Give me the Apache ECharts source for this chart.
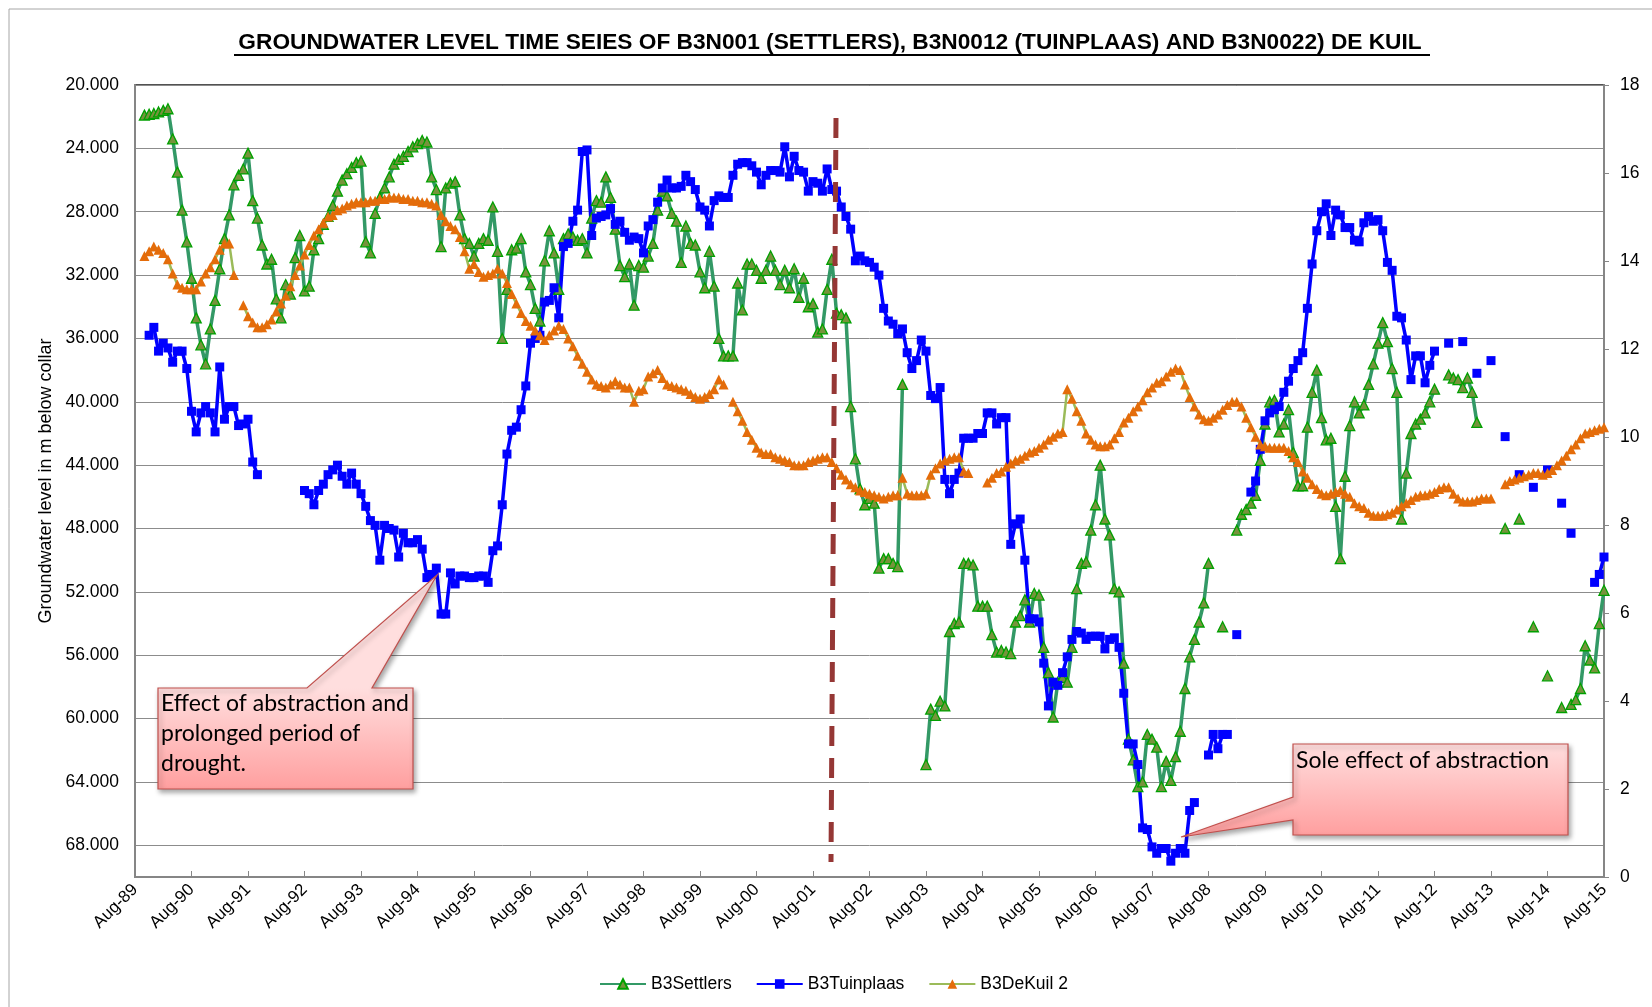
<!DOCTYPE html>
<html>
<head>
<meta charset="utf-8">
<title>Groundwater level time series</title>
<script src="https://cdn.jsdelivr.net/npm/echarts@6/dist/echarts.min.js"></script>
<style>
  html, body { margin: 0; padding: 0; background: #fff; }
  #chart { width: 1652px; height: 1007px; }
</style>
</head>
<body>
<div id="chart"></div>
<script>
'use strict';

// Monthly readings Aug-89 .. Aug-15, metres below collar (one row = Aug..Jul)
const MONTH_NAMES = ['Jan', 'Feb', 'Mar', 'Apr', 'May', 'Jun', 'Jul', 'Aug', 'Sep', 'Oct', 'Nov', 'Dec'];
const START_YEAR = 1989;
const START_MONTH = 7; // Aug
const MONTH_COUNT = 313;

const settlers = [
  null, null, 21.9, 21.85, 21.8, 21.7, 21.6, 21.5, 23.4, 25.5, 27.9, 29.9,
  32.2, 34.7, 36.4, 37.6, 35.4, 33.6, 31.6, 29.7, 28.2, 26.3, 25.7, 25.3,
  24.3, 27.3, 28.4, 30.1, 31.3, 31.0, 33.5, 34.7, 32.6, 33.2, 30.9, 29.5,
  33.0, 32.7, 30.4, 29.7, 28.8, 28.3, 27.6, 26.7, 26.0, 25.6, 25.2, 24.9,
  24.8, 29.9, 30.6, 28.1, 27.1, 26.5, 25.8, 25.0, 24.7, 24.5, 24.2, 23.9,
  23.7, 23.5, 23.6, 25.8, 26.6, 30.2, 26.5, 26.2, 26.1, 28.2, 29.7, 30.0,
  30.8, 30.0, 29.7, 29.8, 27.7, 30.5, 36.0, 32.9, 30.4, 30.3, 29.7, 31.8,
  32.6, 34.1, 34.9, 31.1, 29.2, 30.6, 32.9, 29.7, 29.4, 29.6, 29.8, 29.7,
  30.6, 28.4, 27.3, 27.4, 25.8, 27.1, 29.1, 31.4, 32.1, 31.3, 33.9, 31.4,
  31.5, 30.8, 30.0, 27.9, 26.7, 27.0, 28.1, 28.6, 31.2, 28.9, 30.0, 30.1,
  31.8, 32.8, 30.5, 32.7, 36.0, 37.1, 37.1, 37.1, 32.5, 34.2, 31.3, 31.3,
  31.7, 32.2, 31.7, 30.8, 31.7, 32.6, 31.7, 32.8, 31.6, 33.4, 32.2, 34.0,
  33.8, 35.6, 35.4, 32.9, 31.0, 34.4, 34.5, 34.7, 40.3, 43.6, 45.5, 46.5,
  46.1, 46.4, 50.5, 49.9, 49.9, 50.2, 50.4, 38.9, null, null, null, null,
  62.9, 59.4, 59.8, 58.9, 59.2, 54.5, 54.0, 53.9, 50.2, 50.2, 50.3, 52.9,
  52.9, 52.9, 54.7, 55.8, 55.7, 55.8, 55.9, 53.9, 53.5, 52.5, 53.9, 52.1,
  52.2, 55.5, 57.1, 59.9, 57.7, 57.4, 57.7, 55.5, 51.8, 50.2, 50.1, 48.1,
  46.5, 44.0, 47.4, 48.4, 51.8, 52.0, 56.5, 61.3, 62.6, 64.3, 64.0, 61.0,
  61.3, 61.8, 64.3, 62.7, 63.9, 62.4, 60.8, 58.1, 56.1, 55.0, 53.9, 52.7,
  50.2, null, null, 54.2, null, null, 48.1, 47.1, 46.8, 46.4, 45.9, 43.7,
  41.4, 40.0, 39.9, 41.9, 41.4, 40.5, 43.2, 45.3, 45.3, 41.6, 39.4, 38.0,
  41.0, 42.4, 42.3, 46.6, 49.9, 44.7, 41.5, 40.0, 40.7, 40.2, 38.9, 37.6,
  36.3, 35.0, 36.2, 37.9, 39.4, 47.4, 44.5, 42.0, 41.4, 41.1, 40.7, 40.0,
  39.2, null, null, 38.3, 38.5, 38.6, 39.1, 38.5, 39.4, 41.3, null, null,
  null, null, null, 48.0, null, null, 47.4, null, null, 54.2, null, null,
  57.3, null, null, 59.3, null, 59.1, 58.8, 58.1, 55.4, 56.3, 56.8, 54.0,
  51.9
];

const tuinplaas = [
  null, null, null, 35.8, 35.3, 36.8, 36.3, 36.6, 37.5, 36.8, 36.8, 37.9,
  40.6, 41.9, 40.7, 40.3, 40.7, 41.9, 37.8, 41.1, 40.3, 40.3, 41.5, 41.4,
  41.1, 43.8, 44.6, null, null, null, null, null, null, null, null, null,
  45.6, 45.8, 46.5, 45.6, 45.2, 44.6, 44.3, 44.0, 44.7, 45.2, 44.5, 45.2,
  45.8, 46.6, 47.5, 47.8, 50.0, 47.8, 48.0, 48.1, 49.8, 48.3, 48.9, 48.9,
  48.7, 49.3, 51.1, 50.9, 50.5, 53.4, 53.4, 50.8, 51.5, 51.0, 51.0, 51.1,
  51.1, 51.0, 51.0, 51.4, 49.4, 49.1, 46.5, 43.3, 41.8, 41.6, 40.5, 39.0,
  36.3, 36.0, 35.8, 33.7, 33.6, 32.8, 34.7, 30.2, 30.0, 28.6, 27.9, 24.2,
  24.1, 29.5, 28.4, 28.3, 28.2, 27.8, 28.8, 28.6, 29.3, 29.8, 29.6, 29.7,
  30.6, 28.9, 28.5, 27.4, 26.5, 26.0, 26.5, 26.5, 26.4, 25.7, 26.1, 26.6,
  27.7, 27.9, 28.9, 27.3, 27.0, 27.1, 27.1, 25.7, 25.0, 24.9, 24.9, 25.1,
  25.5, 26.3, 25.7, 25.4, 25.4, 25.5, 23.9, 25.8, 24.5, 25.4, 25.5, 26.7,
  26.1, 26.2, 26.7, 25.3, 26.6, 26.7, 27.7, 28.3, 29.1, 31.1, 30.8, 31.1,
  31.2, 31.5, 32.0, 34.1, 34.9, 35.1, 35.7, 35.4, 36.9, 37.9, 37.4, 36.1,
  36.8, 39.6, 39.8, 39.1, 44.9, 45.8, 44.9, 44.5, 42.3, 42.3, 42.3, 42.0,
  42.0, 40.7, 40.7, 41.4, 41.0, 41.0, 49.0, 47.7, 47.4, 50.0, 53.7, 53.7,
  53.9, 56.5, 59.2, 57.7, 57.9, 57.1, 56.1, 55.0, 54.5, 54.6, 55.0, 54.8,
  54.8, 54.8, 55.6, 55.0, 54.9, 55.5, 58.4, 61.6, 61.6, 62.9, 66.9, 67.0,
  68.1, 68.5, 68.2, 68.2, 69.0, 68.5, 68.2, 68.5, 65.8, 65.3, null, null,
  62.3, 61.0, 61.9, 61.0, 61.0, null, 54.7, null, null, 45.7, 45.0, 43.0,
  41.2, 40.7, 40.5, 40.3, 39.4, 38.7, 37.9, 37.4, 36.9, 34.1, 31.3, 29.2,
  28.0, 27.5, 29.5, 27.9, 28.2, 29.0, 29.0, 29.8, 29.9, 28.7, 28.3, 28.6,
  28.5, 29.2, 31.2, 31.7, 34.6, 34.7, 36.1, 38.6, 37.1, 37.1, 38.8, 37.7,
  36.8, null, null, 36.3, null, null, 36.2, null, null, 38.2, null, null,
  37.4, null, null, 42.2, null, null, 44.6, null, null, 45.4, null, null,
  44.3, null, null, 46.4, null, 48.3, null, null, null, null, 51.4, 50.9,
  49.8
];

const deKuil = [
  null, null, 30.8, 30.5, 30.2, 30.4, 30.6, 31.0, 31.9, 32.6, 32.8, 32.9,
  32.9, 32.9, 32.4, 31.9, 31.5, 31.0, 30.4, 30.0, 30.0, 32.0, null, 33.9,
  34.6, 35.0, 35.3, 35.3, 35.1, 34.8, 34.3, 33.8, 33.3, 32.7, 32.0, 31.4,
  30.7, 30.1, 29.5, 29.1, 28.7, 28.3, 28.2, 27.9, 27.8, 27.6, 27.5, 27.4,
  27.4, 27.4, 27.3, 27.3, 27.2, 27.2, 27.1, 27.1, 27.1, 27.2, 27.2, 27.3,
  27.3, 27.4, 27.4, 27.5, 27.6, 28.2, 28.6, 28.9, 29.1, 29.6, 30.5, 31.6,
  31.3, 31.8, 32.1, 32.0, 31.9, 31.6, 31.9, 32.5, 33.2, 33.8, 34.4, 34.9,
  35.2, 35.5, 35.8, 36.1, 35.8, 35.5, 35.2, 35.4, 36.0, 36.5, 37.1, 37.6,
  38.1, 38.6, 38.9, 39.0, 39.1, 38.9, 38.7, 38.9, 39.1, 39.1, 40.0, 39.3,
  39.2, 38.4, 38.2, 38.0, 38.5, 38.9, 39.0, 39.1, 39.2, 39.3, 39.5, 39.7,
  39.8, 39.7, 39.5, 39.2, 38.6, 38.9, null, 40.0, 40.6, 41.2, 41.9, 42.4,
  42.9, 43.2, 43.3, 43.3, 43.5, 43.6, 43.7, 43.8, 44.0, 44.0, 44.0, 43.8,
  43.7, 43.6, 43.5, 43.5, 43.8, 44.2, 44.6, 44.9, 45.2, 45.4, 45.6, 45.7,
  45.8, 45.9, 46.0, 46.1, 46.0, 45.9, 45.9, 44.8, 45.8, 45.9, 45.9, 45.9,
  45.8, 44.6, 44.2, 43.9, 43.7, 43.6, 43.5, 43.5, 44.4, 44.5, null, null,
  null, 45.1, 44.8, 44.5, 44.4, 44.1, 43.9, 43.7, 43.6, 43.4, 43.2, 43.1,
  42.9, 42.7, 42.4, 42.2, 42.0, 41.9, 39.2, 39.8, 40.6, 41.2, 42.0, 42.4,
  42.7, 42.8, 42.8, 42.7, 42.3, 41.9, 41.3, 41.0, 40.6, 40.3, 39.9, 39.4,
  39.1, 38.8, 38.7, 38.4, 38.1, 37.9, 38.0, 38.9, 39.7, 40.3, 40.8, 41.1,
  41.2, 41.0, 40.8, 40.5, 40.2, 40.0, 40.0, 40.3, 41.0, 41.6, 42.2, 42.7,
  42.8, 42.9, 42.9, 42.9, 42.9, 43.1, 43.5, 43.8, 44.4, 44.8, 45.2, 45.5,
  45.8, 45.9, 45.8, 45.7, 45.6, 45.8, 46.0, 46.4, 46.6, 46.7, 47.0, 47.2,
  47.2, 47.2, 47.1, 47.0, 46.8, 46.6, 46.4, 46.2, 46.0, 45.9, 45.9, 45.8,
  45.7, 45.5, 45.4, 45.4, 45.8, 46.1, 46.3, 46.3, 46.3, 46.2, 46.1, 46.1,
  46.1, null, null, 45.2, 45.0, 44.9, 44.8, 44.7, 44.6, 44.5, 44.5, 44.6,
  44.5, 44.3, 44.0, 43.7, 43.4, 43.0, 42.7, 42.3, 42.0, 41.9, 41.8, 41.7,
  41.6
];

const leftAxisRange = [20, 70];
const leftAxisStep = 4;
const rightAxisRange = [0, 18];
const rightAxisStep = 2;

const TITLE = 'GROUNDWATER LEVEL TIME SEIES OF B3N001 (SETTLERS), B3N0012 (TUINPLAAS) AND B3N0022) DE KUIL';
const FONT = '"Liberation Sans", Arial, sans-serif';
const NOTE_FONT = 'Lato, "Open Sans", sans-serif';

function buildCategories() {
  const out = [];
  for (let i = 0; i < MONTH_COUNT; i++) {
    const mi = START_MONTH + i;
    const year = START_YEAR + Math.floor(mi / 12);
    out.push(MONTH_NAMES[mi % 12] + '-' + String(year % 100).padStart(2, '0'));
  }
  return out;
}

function pinkFill(top, bottom) {
  return {
    type: 'linear', x: 0, y: top, x2: 0, y2: bottom, global: true,
    colorStops: [
      { offset: 0, color: '#ffdede' },
      { offset: 1, color: '#ff9f9f' }
    ]
  };
}

function callout(points, top, bottom) {
  return {
    type: 'polygon',
    shape: { points },
    style: {
      fill: pinkFill(top, bottom),
      stroke: '#c0504d',
      lineWidth: 1.2,
      shadowBlur: 5,
      shadowColor: 'rgba(0,0,0,0.35)',
      shadowOffsetX: 2,
      shadowOffsetY: 3
    },
    z: 10
  };
}

function noteText(text, x, y) {
  return {
    type: 'text',
    x, y,
    style: { text, font: '23px ' + NOTE_FONT, fill: '#000', lineHeight: 30 },
    z: 11
  };
}

function lineSeries(name, data, symbol, lineStyle, itemStyle, size) {
  return {
    name,
    type: 'line',
    data,
    symbol,
    symbolSize: size,
    showSymbol: true,
    showAllSymbol: true,
    connectNulls: false,
    lineStyle,
    itemStyle,
    emphasis: { disabled: true }
  };
}

function buildOption() {
  return {
    animation: false,
    backgroundColor: '#fff',
    textStyle: { fontFamily: FONT },
    grid: { left: 135, right: 48, top: 85, bottom: 130, show: true, borderColor: '#1a1a1a', borderWidth: 1.5 },
    legend: {
      left: 594, top: 970,
      itemWidth: 46, itemHeight: 12, itemGap: 24,
      textStyle: { fontSize: 17.5, color: '#000', fontFamily: FONT },
      data: ['B3Settlers', 'B3Tuinplaas', 'B3DeKuil 2']
    },
    xAxis: {
      type: 'category',
      data: buildCategories(),
      boundaryGap: false,
      axisLine: { lineStyle: { color: '#868686', width: 2 } },
      axisTick: { show: true, inside: true, length: 6, interval: 11, lineStyle: { color: '#868686' } },
      axisLabel: { interval: 11, rotate: 45, fontSize: 17, color: '#000', fontFamily: FONT, margin: 10 },
      splitLine: { show: false }
    },
    yAxis: [
      {
        type: 'value',
        inverse: true,
        min: leftAxisRange[0], max: leftAxisRange[1], interval: leftAxisStep,
        name: 'Groundwater level in m below collar',
        nameLocation: 'middle', nameGap: 80,
        nameTextStyle: { fontSize: 18, color: '#000', fontFamily: FONT },
        axisLine: { show: true, lineStyle: { color: '#868686', width: 2 } },
        axisTick: { show: false },
        axisLabel: {
          formatter: (v) => v.toFixed(3),
          fontSize: 17.5, color: '#000', fontFamily: FONT, margin: 16,
          showMaxLabel: false
        },
        splitLine: { lineStyle: { color: '#8c8c8c', width: 1 } }
      },
      {
        type: 'value',
        position: 'right',
        min: rightAxisRange[0], max: rightAxisRange[1], interval: rightAxisStep,
        axisLine: { show: true, lineStyle: { color: '#868686', width: 2 } },
        axisTick: { show: true, length: 5, lineStyle: { color: '#868686' } },
        axisLabel: { fontSize: 17.5, color: '#000', fontFamily: FONT, margin: 16 },
        splitLine: { show: false }
      }
    ],
    series: [
      lineSeries('B3Settlers', settlers, 'triangle',
        { color: '#339966', width: 3.5 },
        { color: '#77933c', borderColor: '#00a000', borderWidth: 1.3 }, 10),
      lineSeries('B3Tuinplaas', tuinplaas, 'rect',
        { color: '#0000ff', width: 3.5 },
        { color: '#0000ff' }, 9),
      lineSeries('B3DeKuil 2', deKuil, 'triangle',
        { color: '#9bbb59', width: 2.5 },
        { color: '#e46c0a' }, 10)
    ],
    graphic: [
      // outer chart frame
      {
        type: 'rect', shape: { x: 9, y: 9, width: 1700, height: 1100 },
        style: { fill: 'none', stroke: '#a6a6a6', lineWidth: 1 }, silent: true
      },
      {
        type: 'text', x: 830, y: 43,
        style: { text: TITLE, font: 'bold 22.7px ' + FONT, fill: '#000', textAlign: 'center', textVerticalAlign: 'middle' }
      },
      {
        type: 'line', shape: { x1: 234, y1: 55, x2: 1430, y2: 55 },
        style: { stroke: '#000', lineWidth: 2 }
      },
      // 2001 marker
      {
        type: 'line', shape: { x1: 836, y1: 118, x2: 831, y2: 862 },
        style: { stroke: '#953735', lineWidth: 5, lineDash: [20, 12] }, z: 9
      },
      callout([[158, 688], [307, 688], [437, 575], [372, 688], [413, 688], [413, 789], [158, 789]], 688, 789),
      noteText('Effect of abstraction and\nprolonged period of\ndrought.', 161, 689),
      callout([[1293, 744], [1568, 744], [1568, 835], [1293, 835], [1293, 820], [1181, 837], [1293, 797]], 744, 835),
      noteText('Sole effect of abstraction', 1296, 746)
    ]
  };
}

const chart = echarts.init(document.getElementById('chart'), null, { renderer: 'canvas' });
chart.setOption(buildOption());
</script>
</body>
</html>
